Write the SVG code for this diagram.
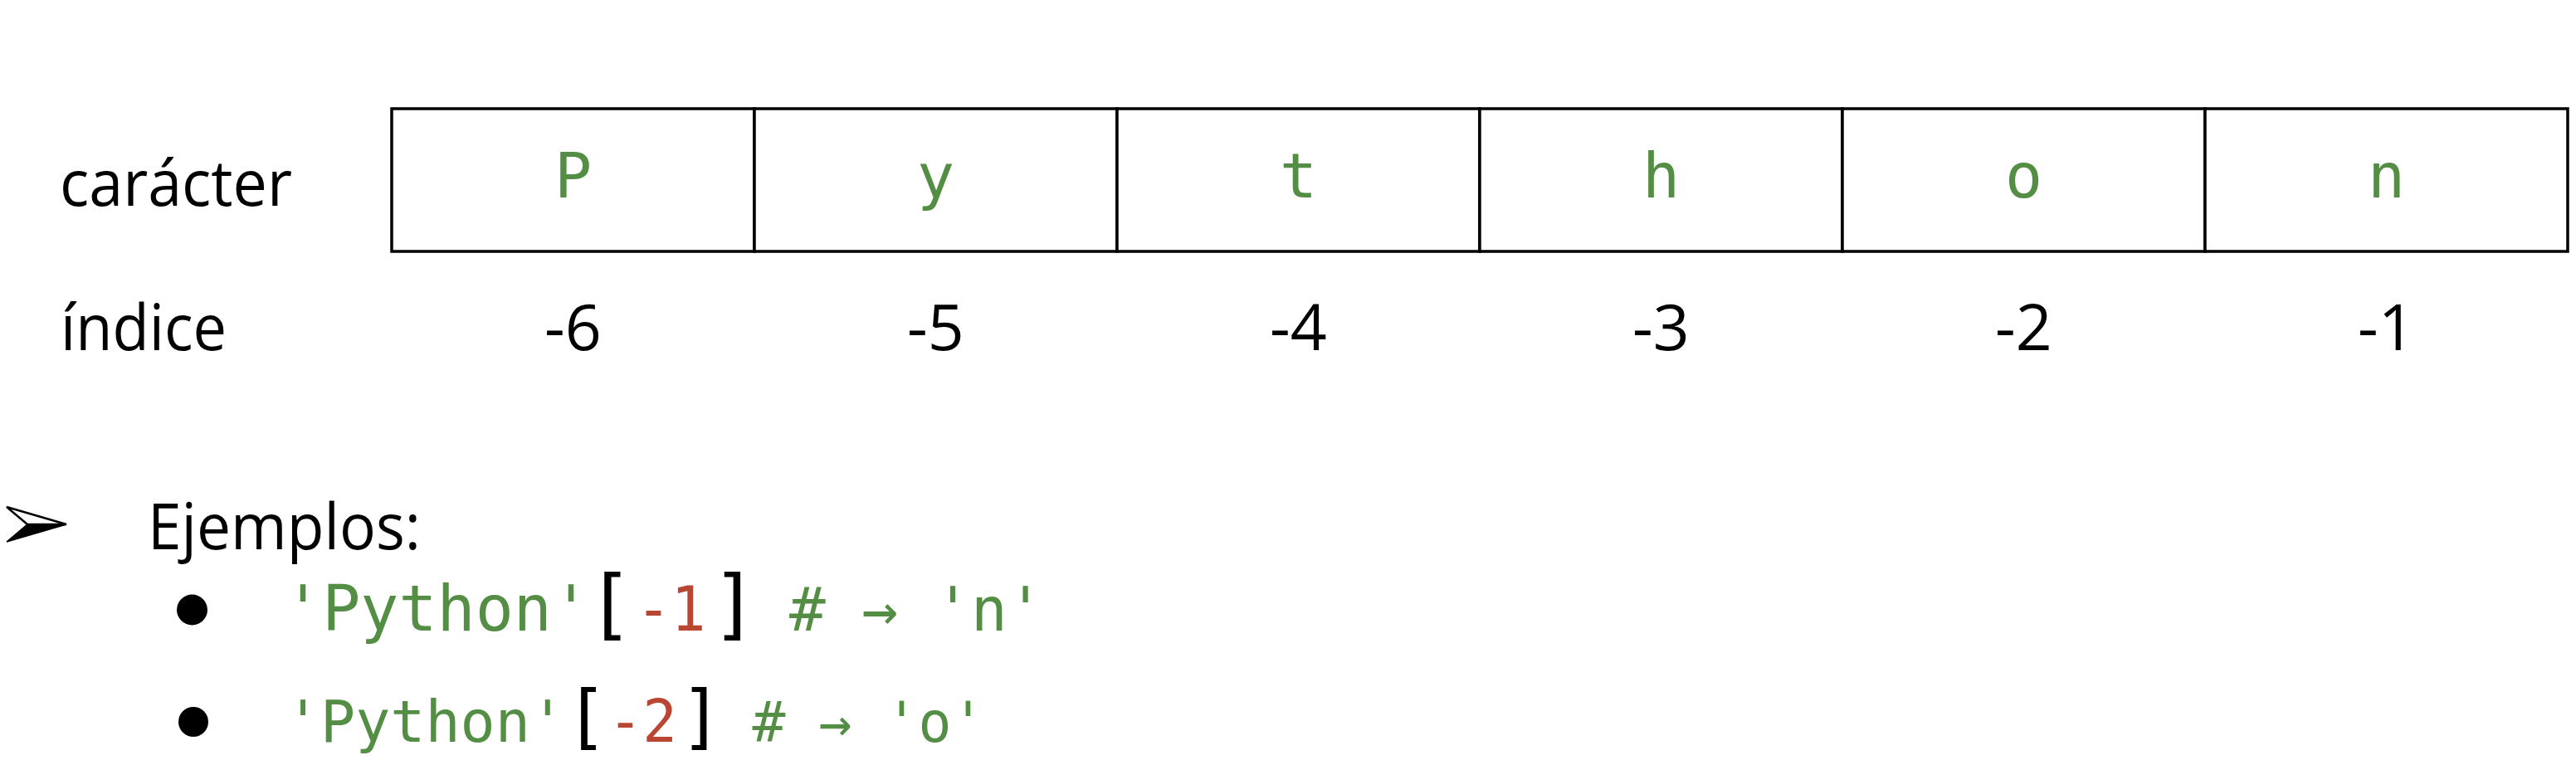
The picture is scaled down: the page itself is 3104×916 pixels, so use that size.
<svg xmlns="http://www.w3.org/2000/svg" width="3104" height="916" viewBox="0 0 3104 916">
<style>
.lbl{font-family:"Open Sans","Noto Sans","DejaVu Sans",sans-serif;font-size:77px;fill:#000}
.idx{font-family:"Open Sans","Noto Sans","DejaVu Sans",sans-serif;font-size:77px;fill:#000;text-anchor:middle}
.ch{font-family:"DejaVu Sans Mono","Liberation Mono",monospace;font-size:75px;fill:#548E44;text-anchor:middle}
.cell{fill:#fff;stroke:#000;stroke-width:3.5}
.code{font-family:"DejaVu Sans Mono","Liberation Mono",monospace;fill:#548E44}
.num{font-family:"DejaVu Sans Mono","Liberation Mono",monospace;fill:#B94632}
.br{font-family:"DejaVu Sans","Noto Sans",sans-serif;fill:#000;text-anchor:middle}
</style>
<rect width="3104" height="916" fill="#fff"/>
<g id="row-labels">
<text class="lbl" x="72" y="248" textLength="280" lengthAdjust="spacingAndGlyphs">carácter</text>
<text class="lbl" x="73" y="422" textLength="200" lengthAdjust="spacingAndGlyphs">índice</text>
</g>
<g id="cell-0"><rect class="cell" x="472" y="131" width="437" height="172"/><text class="ch" x="690.5" y="238">P</text><text class="idx" x="690.5" y="422">-6</text></g>
<g id="cell-1"><rect class="cell" x="909" y="131" width="437" height="172"/><text class="ch" x="1127.5" y="238">y</text><text class="idx" x="1127.5" y="422">-5</text></g>
<g id="cell-2"><rect class="cell" x="1346" y="131" width="437" height="172"/><text class="ch" x="1564.5" y="238">t</text><text class="idx" x="1564.5" y="422">-4</text></g>
<g id="cell-3"><rect class="cell" x="1783" y="131" width="437" height="172"/><text class="ch" x="2001.5" y="238">h</text><text class="idx" x="2001.5" y="422">-3</text></g>
<g id="cell-4"><rect class="cell" x="2220" y="131" width="437" height="172"/><text class="ch" x="2438.5" y="238">o</text><text class="idx" x="2438.5" y="422">-2</text></g>
<g id="cell-5"><rect class="cell" x="2657" y="131" width="437" height="172"/><text class="ch" x="2875.5" y="238">n</text><text class="idx" x="2875.5" y="422">-1</text></g>
<g id="connectors"/>
<g id="examples-heading">
<path d="M8,653 L33,632 L80,632 Z" fill="#000" stroke="#000" stroke-width="1.5" stroke-linejoin="miter"/>
<path d="M8,611 L80,632 L33,632 Z" fill="#fff" stroke="#000" stroke-width="2.5" stroke-linejoin="miter"/>
<text class="lbl" x="178" y="662" textLength="329" lengthAdjust="spacingAndGlyphs">Ejemplos:</text>
</g>
<g id="example-1">
<circle cx="231.5" cy="735" r="18.5" fill="#000"/>
<text class="code" x="342" y="760" font-size="76" textLength="369" lengthAdjust="spacingAndGlyphs">'Python'</text>
<text class="br" x="738.5" y="760" font-size="93">[</text>
<text class="num" x="766.5" y="760" font-size="75" textLength="84" lengthAdjust="spacingAndGlyphs">-1</text>
<text class="br" x="882" y="760" font-size="93">]</text>
<text class="code" x="951" y="760" font-size="73" textLength="306.6" lengthAdjust="spacingAndGlyphs"># → 'n'</text>
</g>
<g id="example-2">
<circle cx="233" cy="870" r="18" fill="#000"/>
<text class="code" x="344" y="894" font-size="70" textLength="337" lengthAdjust="spacingAndGlyphs">'Python'</text>
<text class="br" x="709.5" y="893" font-size="86">[</text>
<text class="num" x="732.75" y="894" font-size="71" textLength="83" lengthAdjust="spacingAndGlyphs">-2</text>
<text class="br" x="842" y="893" font-size="86">]</text>
<text class="code" x="906.5" y="894" font-size="67" textLength="280" lengthAdjust="spacingAndGlyphs"># → 'o'</text>
</g>
</svg>
